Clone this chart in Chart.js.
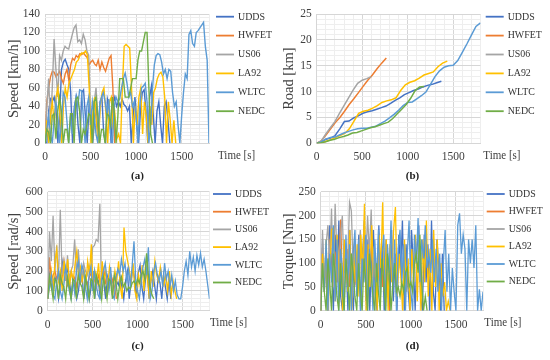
<!DOCTYPE html>
<html>
<head>
<meta charset="utf-8">
<script src="https://cdn.jsdelivr.net/npm/chart.js@4.4.0/dist/chart.umd.min.js"></script>
<style>
  html, body { margin: 0; padding: 0; background: #fff; }
  #wrap { position: relative; width: 550px; height: 360px; overflow: hidden; }
  canvas { position: absolute; }
</style>
</head>
<body>
<div id="wrap">
  <canvas id="chartA" width="275" height="186" style="left:0;top:0"></canvas>
  <canvas id="chartB" width="275" height="186" style="left:275px;top:0"></canvas>
  <canvas id="chartC" width="275" height="180" style="left:0;top:180px"></canvas>
  <canvas id="chartD" width="275" height="180" style="left:275px;top:180px"></canvas>
</div>
<script>
// drive cycles, Excel office palette
const cycles = ['UDDS', 'HWFET', 'US06', 'LA92', 'WLTC', 'NEDC'];
const cycleColors = ['#4472C4', '#ED7D31', '#A5A5A5', '#FFC000', '#5B9BD5', '#70AD47'];
const cycleDuration = [1370, 765, 600, 1435, 1800, 1180]; // s, samples are spread evenly over it

// (a) speed [km/h]
const kmhUDDS = [0,0,35,48,45,50,38,0,30,80, 88,91,85,80,55,0,40,50,20,0, 55,58,30,0,40,35,0,25,40,0,
  45,50,10,0,48,40,0,42,50,40, 45,40,48,42,40,35,40,0,30,50, 20,0,35,55,58,35,0,50,62,30, 0,35,45,20,0,40,45,25,0];
const kmhHWFET = [0,45,60,72,78,77,72,75,78,70, 65,75,80,68,85,92,90,95,93,97, 96,98,95,93,85,88,90,86,84,90,
  80,88,82,78,85,92,95,60,0];
const kmhUS06 = [0,40,70,20,60,113,80,50,95,90, 100,105,103,102,110,118,125,128,110,112, 108,118,112,100,95,30,0,45,60,30, 0];
const kmhLA92 = [0,25,0,30,45,20,50,60,35,0, 40,60,50,65,70,75,80,88,90,95, 98,97,100,96,60,0,35,50,20,0,
  40,55,60,35,0,45,50,15,30,5, 10,0,60,105,107,105,103,60,0,40, 20,50,60,10,45,30,0,40,20,55,
  60,70,75,77,72,50,0,45,25,0, 25,0];
const kmhWLTC = [0,15,30,10,0,25,45,30,0,20, 55,50,25,0,30,10,35,50,40,58, 57,30,0,40,50,20,45,30,10,0,
  40,50,55,45,30,48,10,0,40,50, 45,48,60,70,76,65,50,55,40,45, 30,0,40,60,62,65,45,0,20,60,
  85,95,97,96,88,75,80,70,80,78, 55,40,45,20,0,30,55,75,70,118, 122,108,105,120,122,125,128,131,105,90, 0];
const kmhNEDC = [0,15,12,0,30,32,5,35,50,35, 0,15,15,0,32,32,0,48,50,35, 0,15,10,20,32,30,0,45,50,30,
  0,15,15,0,32,30,20,50,35,0, 30,70,70,70,50,50,50,60,70,70, 70,90,100,100,110,120,120,60,10,0];

// (b) road [km]
const kmUDDS = [0,0.2,0.8,1.0,1.5,2.8,4.2,4.3,4.9,5.3, 5.8,6.1,6.3,6.6,6.9,7.2,7.7,8.3,8.8,9.4,
  9.8,10.2,10.5,10.9,11.2,11.4,11.7,12.0];
const kmHWFET = [0,0.5,1.6,2.8,4.0,5.0,6.2,7.5,8.6,9.8, 11.0,12.2,13.2,14.4,15.5,16.5];
const kmUS06 = [0,0.4,1.8,3.0,4.2,5.8,7.3,8.8,10.3,11.6, 12.2,12.5,12.9];
const kmLA92 = [0,0.1,0.4,0.7,1.1,1.5,1.9,2.8,4.3,5.8, 6.2,6.4,6.8,7.3,7.9,8.2,8.4,8.8,10.2,11.3,
  11.8,12.1,12.6,13.2,13.5,13.8,14.8,15.5,15.9];
const kmWLTC = [0,0.3,0.8,1.1,1.2,1.6,2.0,2.3,2.6,2.8, 2.9,2.9,3.1,3.3,3.8,4.3,4.9,5.6,6.4,7.3,
  7.9,8.0,8.6,9.2,9.9,11.4,12.9,14.0,14.7,15.0, 15.1,16.0,17.6,19.2,20.9,22.6,23.3];
const kmNEDC = [0,0.1,0.3,0.6,0.8,1.1,1.3,1.6,2.0,2.1, 2.4,2.7,3.0,3.2,3.5,3.8,4.1,4.8,5.7,6.6,
  7.5,8.7,10.2,10.9,11.0];

// (c) motor speed [rad/s]
const radUDDS = [60,180,120,150,170,130,60,140,250,200, 180,210,160,60,150,120,60,100,190,170,
  60,160,140,60,120,200,60,170,150,60, 190,140,60,170,120,160,140,180,150,130,
  170,120,60,150,200,60,140,220,160,60, 190,230,120,60,160,210,60,150,200,130, 60,170,140,60,180,120,60,150,60];
const radHWFET = [60,270,150,180,200,160,190,140,170,250, 180,130,160,200,150,170,120,180,140,160,
  200,150,130,170,190,140,160,120,180,150, 170,210,140,160,130,180,150,120,60];
const radUS06 = [60,400,250,480,200,330,150,510,180,250, 150,280,160,200,230,360,180,310,200,160,
  240,200,180,230,200,320,330,360,350,540, 60];
const radLA92 = [60,120,200,100,250,310,150,200,100,250, 180,260,120,200,150,230,300,180,220,150,
  200,130,250,180,335,120,200,160,240,100, 250,150,200,120,220,160,100,200,150,250,
  120,60,420,300,250,200,150,240,100,60, 180,120,230,100,250,150,60,200,120,250,
  180,150,220,160,130,180,100,200,80,150, 100,60];
const radWLTC = [60,120,180,80,60,150,200,100,60,130, 220,160,100,60,150,90,200,250,140,230,
  200,120,60,180,220,100,200,130,80,60, 160,200,240,150,100,220,80,60,170,210,
  180,260,200,240,150,210,120,230,350,150, 100,60,150,220,260,180,320,60,100,200,
  240,180,150,200,120,240,160,200,120,180, 100,150,80,60,60,120,200,250,180,300,
  220,270,200,280,230,290,220,260,200,130, 60];
const radNEDC = [60,170,120,60,160,150,60,180,140,120, 60,170,120,60,160,150,60,180,140,120,
  60,170,120,60,160,150,60,180,140,120, 60,170,120,60,160,150,60,180,140,60,
  130,170,120,140,100,120,110,140,150,130, 160,140,180,200,160,290,180,120,80,60];

// (d) torque [Nm]
const nmUDDS = [0,150,40,120,0,180,90,0,160,60, 190,30,0,140,100,0,170,50,0,130,
  80,160,0,110,190,20,150,0,100,170, 40,0,180,60,130,0,150,90,0,170,
  20,120,0,160,80,190,0,140,50,0, 170,100,0,130,180,30,0,160,60,140, 0,190,40,0,150,90,0,120,0];
const nmHWFET = [0,130,60,100,30,150,80,110,120,60, 90,192,40,100,70,130,50,120,80,60,
  110,90,130,70,100,50,120,80,140,60, 100,90,70,120,50,110,80,40,0];
const nmUS06 = [0,170,60,140,180,100,215,50,225,120, 40,160,200,80,130,100,228,210,90,150,
  60,120,170,50,140,100,200,120,213,80, 0];
const nmLA92 = [0,120,40,150,0,80,170,175,20,160, 60,130,0,150,90,40,170,0,120,60,
  140,30,160,80,225,0,140,50,180,70, 120,0,160,90,228,40,150,0,140,60,
  170,218,30,120,70,0,150,40,110,0, 130,60,160,20,140,0,150,60,190,30,
  130,0,170,50,150,0,100,30,60,0, 20,0];
const nmWLTC = [0,100,40,150,0,120,60,180,20,150, 0,130,90,0,160,50,140,0,120,170,
  30,150,0,110,60,160,0,130,90,0, 150,60,170,20,120,160,0,140,80,190,
  40,150,0,130,170,60,140,0,120,190, 40,0,160,100,195,60,150,110,180,90,
  120,80,150,60,130,40,120,0,100,170, 40,120,0,90,40,0,180,205,120,160,
  130,0,150,100,150,90,180,0,45,0, 40];
const nmNEDC = [0,100,40,0,110,60,0,120,80,30, 0,100,40,0,110,60,0,120,80,30,
  0,100,40,0,110,60,0,120,80,30, 0,100,40,0,110,60,0,120,80,0,
  60,100,40,50,30,60,40,80,90,50, 60,40,100,120,80,160,60,0,30,0];

const GRID_MAJOR = '#d6d6d6';
const GRID_MINOR = '#eeeeee';
const TEXT_COLOR = '#404040';
const SERIF = '"Liberation Serif", "Times New Roman", serif';

// spread each sample evenly over the cycle duration
const toPoints = (values, duration) => {
  const step = duration / (values.length - 1);
  return values.map((v, i) => ({ x: i * step, y: v }));
};

// legend, x-axis title on the right and the (a)..(d) caption
const panelExtras = {
  id: 'panelExtras',
  afterDraw(chart, args, opts) {
    const { ctx, chartArea, width } = chart;
    ctx.save();
    const lx = chartArea.right + opts.legendX;
    ctx.font = '11px ' + SERIF;
    ctx.textBaseline = 'middle';
    ctx.textAlign = 'left';
    cycles.forEach((name, i) => {
      const y = opts.legendY + i * opts.legendGap;
      ctx.strokeStyle = cycleColors[i];
      ctx.lineWidth = 1.8;
      ctx.beginPath();
      ctx.moveTo(lx, y);
      ctx.lineTo(lx + 18, y);
      ctx.stroke();
      ctx.save();
      ctx.translate(lx + 22, y);
      ctx.scale(0.9, 1);
      ctx.fillStyle = '#333';
      ctx.fillText(name, 0, 0);
      ctx.restore();
    });

    // "Time [s]" sits right of the x axis
    ctx.save();
    ctx.font = '12.5px ' + SERIF;
    ctx.translate(lx + opts.timeX, chartArea.bottom + opts.timeY);
    ctx.scale(0.88, 1);
    ctx.fillStyle = TEXT_COLOR;
    ctx.fillText('Time [s]', 0, 0);
    ctx.restore();

    ctx.font = 'bold 11px ' + SERIF;
    ctx.textAlign = 'center';
    ctx.fillStyle = '#222';
    ctx.fillText(opts.caption, width / 2, opts.captionY);
    ctx.restore();
  }
};

function makePanel(canvasId, series, p) {
  const datasets = series.map((values, i) => ({
    label: cycles[i],
    data: toPoints(values, cycleDuration[i]),
    borderColor: cycleColors[i],
    backgroundColor: cycleColors[i],
    borderWidth: p.lineWidth,
    pointRadius: 0,
    tension: 0,
    order: cycles.length - i // Excel draws the last series on top
  }));

  return new Chart(document.getElementById(canvasId), {
    type: 'line',
    data: { datasets },
    plugins: [panelExtras],
    options: {
      responsive: false,
      animation: false,
      events: [],
      layout: { padding: { top: p.top, right: p.canvasW - p.right, left: 0, bottom: 0 } },
      plugins: {
        legend: { display: false },
        tooltip: { enabled: false },
        panelExtras: p.extras
      },
      scales: {
        x: {
          type: 'linear',
          min: 0,
          max: 1800,
          afterFit: (s) => { s.height = p.canvasH - p.bottom; },
          border: { display: true, color: GRID_MAJOR },
          grid: {
            drawTicks: false,
            color: (c) => (c.tick && c.tick.value % 500 === 0 ? GRID_MAJOR : GRID_MINOR)
          },
          ticks: {
            stepSize: 100,
            autoSkip: false,
            maxRotation: 0,
            padding: 7,
            color: TEXT_COLOR,
            font: { family: SERIF, size: 11.5 },
            callback: (v) => (v % 500 === 0 ? v : '')
          }
        },
        y: {
          min: 0,
          max: p.yMax,
          afterFit: (s) => { s.width = p.left; },
          border: { display: false },
          grid: {
            drawTicks: false,
            color: (c) => (c.tick && Math.abs(c.tick.value / p.yMajor - Math.round(c.tick.value / p.yMajor)) < 1e-6 ? GRID_MAJOR : GRID_MINOR)
          },
          ticks: {
            stepSize: p.yMajor / 5,
            autoSkip: false,
            padding: 5,
            color: TEXT_COLOR,
            font: { family: SERIF, size: 11.5 },
            callback: (v) => (Math.abs(v / p.yMajor - Math.round(v / p.yMajor)) < 1e-6 ? v : '')
          },
          title: {
            display: true,
            text: p.yTitle,
            color: TEXT_COLOR,
            font: { family: SERIF, size: 14.5 },
            padding: { top: 5, bottom: 0 }
          }
        }
      }
    }
  });
}

makePanel('chartA', [kmhUDDS, kmhHWFET, kmhUS06, kmhLA92, kmhWLTC, kmhNEDC], {
  canvasW: 275, canvasH: 186, left: 45, right: 209, top: 14, bottom: 143.3,
  yMax: 140, yMajor: 20, yTitle: 'Speed [km/h]', lineWidth: 1.4,
  extras: { legendX: 7, legendY: 16.7, legendGap: 18.9, timeX: 2, timeY: 12.5, caption: '(a)', captionY: 176.5 }
});

makePanel('chartB', [kmUDDS, kmHWFET, kmUS06, kmLA92, kmWLTC, kmNEDC], {
  canvasW: 275, canvasH: 186, left: 41.7, right: 205.5, top: 14, bottom: 143.3,
  yMax: 25, yMajor: 5, yTitle: 'Road [km]', lineWidth: 1.5,
  extras: { legendX: 5.2, legendY: 16.7, legendGap: 18.9, timeX: -2.4, timeY: 12, caption: '(b)', captionY: 176.5 }
});

makePanel('chartC', [radUDDS, radHWFET, radUS06, radLA92, radWLTC, radNEDC], {
  canvasW: 275, canvasH: 180, left: 47.7, right: 209.5, top: 10, bottom: 130.7,
  yMax: 600, yMajor: 100, yTitle: 'Speed [rad/s]', lineWidth: 1.3,
  extras: { legendX: 3.5, legendY: 14, legendGap: 17.7, timeX: -3, timeY: 12, caption: '(c)', captionY: 165.7 }
});

makePanel('chartD', [nmUDDS, nmHWFET, nmUS06, nmLA92, nmWLTC, nmNEDC], {
  canvasW: 275, canvasH: 180, left: 45.7, right: 208, top: 10, bottom: 130.7,
  yMax: 250, yMajor: 50, yTitle: 'Torque [Nm]', lineWidth: 1.3,
  extras: { legendX: 3.7, legendY: 14, legendGap: 17.5, timeX: -2.4, timeY: 12, caption: '(d)', captionY: 165.7 }
});
</script>
</body>
</html>
